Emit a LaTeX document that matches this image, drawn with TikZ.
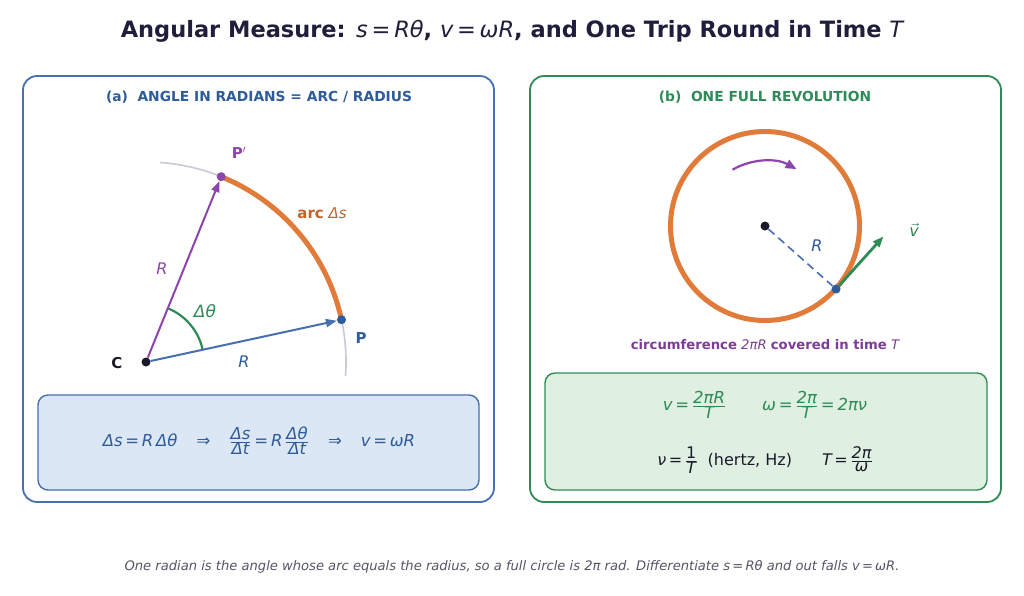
\documentclass[tikz,border=0pt]{standalone}
\usepackage{fontspec}
\setmainfont{DejaVu Sans}
\usetikzlibrary{arrows.meta,calc}
\definecolor{navy}{HTML}{1F1F3D}
\definecolor{pblue}{HTML}{2E5C9A}
\definecolor{lblue}{HTML}{4670B0}
\definecolor{abox}{HTML}{DCE7F5}
\definecolor{pgreen}{HTML}{2E8B57}
\definecolor{bbox}{HTML}{DFEFE1}
\definecolor{porange}{HTML}{E07B39}
\definecolor{dorange}{HTML}{C0652A}
\definecolor{ppurple}{HTML}{8E44AD}
\definecolor{dpurple}{HTML}{7D3C98}
\definecolor{pgray}{HTML}{C8C8D6}
\definecolor{capgray}{HTML}{555566}
\definecolor{dark}{HTML}{1A1A2A}
\newcommand\mi[1]{{\itshape #1}}
\newcommand\fr[2]{$\frac{\hbox{#1}}{\hbox{#2}}$}
\tikzset{
  panel/.style={draw, line width=1.8pt, rounded corners=14pt},
  fbox/.style={draw, line width=1.4pt, rounded corners=10pt},
  dot/.style={circle, inner sep=0pt, minimum size=9pt},
  vec/.style={line width=2pt, -{Triangle[length=11pt,width=8pt]}},
  lbl/.style={inner sep=0pt},
}
\begin{document}
\begin{tikzpicture}[x=1pt,y=-1pt]
\useasboundingbox (0,0) rectangle (1024,595);
\fill[white] (0,0) rectangle (1024,595);

% title
\node[lbl, text=navy, font=\fontsize{22.5}{26}\selectfont\bfseries] (title) at (512,31)
  {Angular Measure: \mdseries\mi{s\,=\,Rθ}\bfseries, \mdseries\mi{v\,=\,ωR}\bfseries, and One Trip Round in Time \mdseries\mi{T}};

% panels
\draw[panel, lblue] (23,76) rectangle (494,502);
\node[lbl, text=pblue, font=\fontsize{13.8}{16}\selectfont\bfseries] (ha) at (259,97) {(a)\ \ ANGLE IN RADIANS = ARC / RADIUS};
\draw[panel, pgreen] (530,76) rectangle (1001,502);
\node[lbl, text=pgreen, font=\fontsize{13.8}{16}\selectfont\bfseries] (hb) at (765,97) {(b)\ \ ONE FULL REVOLUTION};

% panel a geometry
\coordinate (C0) at (146,362);
\draw[pgray, line width=1.6pt] ($(C0)+(4:200)$) arc[start angle=4, end angle=-86, radius=200];
\draw[porange, line width=5pt] ($(C0)+(-12.2:200)$) arc[start angle=-12.2, end angle=-67.9, radius=200];
\draw[pgreen, line width=2.2pt] ($(C0)+(-12.2:58)$) arc[start angle=-12.2, end angle=-67.9, radius=58];
\node[dot, fill=pblue] (P) at ($(C0)+(-12.2:200)$) {};
\node[dot, fill=ppurple] (Pp) at ($(C0)+(-67.9:200)$) {};
\node[dot, fill=dark] (C) at (C0) {};
\draw[vec, lblue] (C) -- (P);
\draw[vec, ppurple] (C) -- (Pp);
\node[lbl, text=dark, font=\fontsize{15}{17}\selectfont\bfseries] (Cl) at (117,363) {C};
\node[lbl, text=pblue, font=\fontsize{15}{17}\selectfont\bfseries] (Pl) at (361,338) {P};
\node[lbl, text=ppurple, font=\fontsize{15}{17}\selectfont\bfseries] (Ppl) at (239,153) {P$'$};
\node[lbl, text=ppurple, font=\fontsize{16}{18}\selectfont\itshape] (Ra) at (162,269) {R};
\node[lbl, text=pblue, font=\fontsize{16}{18}\selectfont\itshape] (Rb) at (244,362) {R};
\node[lbl, text=pgreen, font=\fontsize{17}{19}\selectfont\itshape] (th) at (205,311) {Δθ};
\node[lbl, text=dorange, font=\fontsize{15}{18}\selectfont] (arcl) at (322,213) {\textbf{arc} \mi{Δs}};

% formula box a
\draw[fbox, lblue, fill=abox] (38,395) rectangle (479,490);
\node[lbl, text=pblue, font=\fontsize{16.5}{19}\selectfont] (fa) at (259,441)
  {\mi{Δs\,=\,R\,Δθ}\hspace{19pt}⇒\hspace{19pt}\fr{\mi{Δs}}{\mi{Δt}}\,=\,\mi{R}\,\fr{\mi{Δθ}}{\mi{Δt}}\hspace{19pt}⇒\hspace{19pt}\mi{v\,=\,ωR}};

% panel b geometry
\coordinate (O0) at (765,226);
\draw[porange, line width=5pt] (O0) circle[radius=94.5];
\draw[ppurple, line width=2.2pt, -{Triangle[length=11pt,width=9pt]}] ($(O0)+(-120:65)$) arc[start angle=-120, end angle=-61, radius=65];
\node[dot, fill=dark] (O) at (O0) {};
\node[dot, fill=pblue] (Q) at ($(O0)+(41.6:95)$) {};
\draw[lblue, line width=1.6pt, dash pattern=on 8pt off 5pt] (O) -- (Q);
\coordinate (Vend) at ($(Q)+(-48:71)$);
\draw[vec, pgreen, line width=2.8pt] (Q) -- (Vend);
\node[lbl, text=pblue, font=\fontsize{16}{18}\selectfont\itshape] (Rc) at (817,246) {R};
\node[lbl, text=pgreen, font=\fontsize{16}{18}\selectfont\itshape] (vl) at (914,230) {$\vec{\hbox{\itshape v}}$};
\node[lbl, text=dpurple, font=\fontsize{13.2}{15}\selectfont] (circ) at (765,345)
  {\textbf{circumference} \mi{2πR} \textbf{covered in time} \mi{T}};

% formula box b
\draw[fbox, pgreen, fill=bbox] (545,373) rectangle (987,490);
\node[lbl, text=pgreen, font=\fontsize{16.5}{19}\selectfont] (fb1) at (765,405)
  {\mi{v\,=\,}\fr{\mi{2πR}}{\mi{T}}\hspace{36pt}\mi{ω\,=\,}\fr{\mi{2π}}{\mi{T}}\mi{\,=\,2πν}};
\node[lbl, text=dark, font=\fontsize{16}{19}\selectfont] (fb2) at (765,460)
  {\mi{ν\,=\,}\fr{1}{\mi{T}}\ \ (hertz, Hz)\hspace{30pt}\mi{T\,=\,}\fr{\mi{2π}}{\mi{ω}}};

% caption
\node[lbl, text=capgray, font=\fontsize{13.1}{15}\selectfont\itshape] (cap) at (512,567)
  {One radian is the angle whose arc equals the radius, so a full circle is 2π rad. Differentiate s\,=\,Rθ and out falls v\,=\,ωR.};
\end{tikzpicture}
\end{document}
